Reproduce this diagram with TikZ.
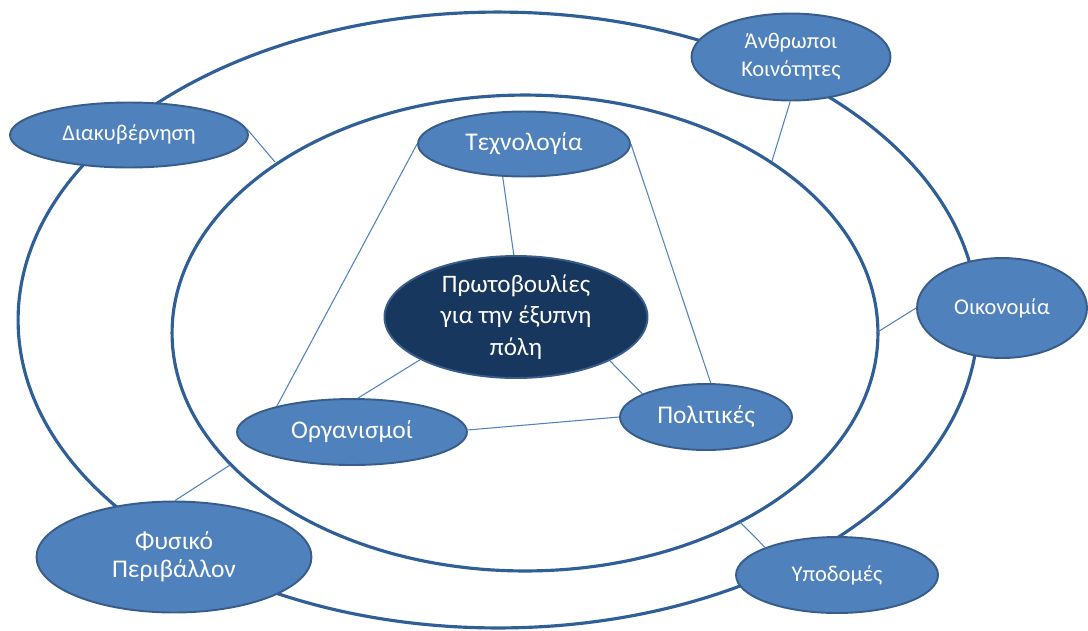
\documentclass[tikz,border=0pt]{standalone}
\usepackage{fontspec}
\setmainfont{Carlito}
\usetikzlibrary{shapes.geometric}
\definecolor{nodeblue}{HTML}{4F81BD}
\definecolor{edgeblue}{HTML}{385D8A}
\definecolor{ringblue}{HTML}{2F5F96}
\definecolor{coreblue}{HTML}{17375E}
\tikzset{
	topic/.style = {ellipse, draw=edgeblue, line width=1.1pt, fill=nodeblue, text=white, align=center, inner sep=0pt, font=\fontsize{12.8}{16}\selectfont},
	pillar/.style = {topic, font=\fontsize{14.5}{16}\selectfont},
	core/.style = {topic, fill=coreblue, font=\fontsize{14.3}{18}\selectfont},
	ring/.style = {draw=ringblue, line width=1.8pt},
	link/.style = {draw=nodeblue, line width=0.6pt}
}
\begin{document}
\begin{tikzpicture}[x=0.02cm, y=-0.02cm]
	\useasboundingbox (0, 0) rectangle (1088, 630);
	\draw [ring] (498, 320) ellipse [x radius = 9.6cm, y radius = 6.16cm];
	\draw [ring] (525, 333) ellipse [x radius = 7.06cm, y radius = 4.76cm];
	\node [topic, minimum width = 4.76cm, minimum height = 1.3cm] (gov) at (129, 135) {Διακυβέρνηση};
	\node [topic, minimum width = 3.98cm, minimum height = 1.74cm] (people) at (791, 57) {Άνθρωποι\\Κοινότητες};
	\node [topic, minimum width = 3.4cm, minimum height = 2cm] (econ) at (1002, 308) {Οικονομία};
	\node [pillar, minimum width = 5.5cm, minimum height = 2.22cm] (env) at (174, 557) {Φυσικό\\Περιβάλλον};
	\node [topic, minimum width = 4.04cm, minimum height = 1.52cm] (infra) at (837, 575) {Υποδομές};
	\node [pillar, minimum width = 4.24cm, minimum height = 1.3cm] (tech) at (524, 144) {Τεχνολογία};
	\node [core, minimum width = 5.26cm, minimum height = 2.44cm] (init) at (516, 317) {Πρωτοβουλίες\\για την έξυπνη\\πόλη};
	\node [pillar, minimum width = 4.6cm, minimum height = 1.32cm] (org) at (352, 432) {Οργανισμοί};
	\node [pillar, minimum width = 3.44cm, minimum height = 1.32cm] (policy) at (706, 417) {Πολιτικές};
	\coordinate (gov r) at (275, 162);
	\coordinate (people r) at (772, 161);
	\coordinate (econ r) at (876, 333);
	\coordinate (env r) at (230, 465);
	\coordinate (infra r) at (740, 522);
	\path [link] (gov.3) -- (gov r)
		(people.269) -- (people r)
		(econ.180) -- (econ r)
		(env.89) -- (env r)
		(infra.159) -- (infra r)
		(tech.180) -- (org.161)
		(tech.237) -- (init.92)
		(tech.0) -- (policy.82)
		(init.204) -- (org.80)
		(init.335) -- (policy.160)
		(org.1) -- (policy.180);
\end{tikzpicture}
\end{document}
